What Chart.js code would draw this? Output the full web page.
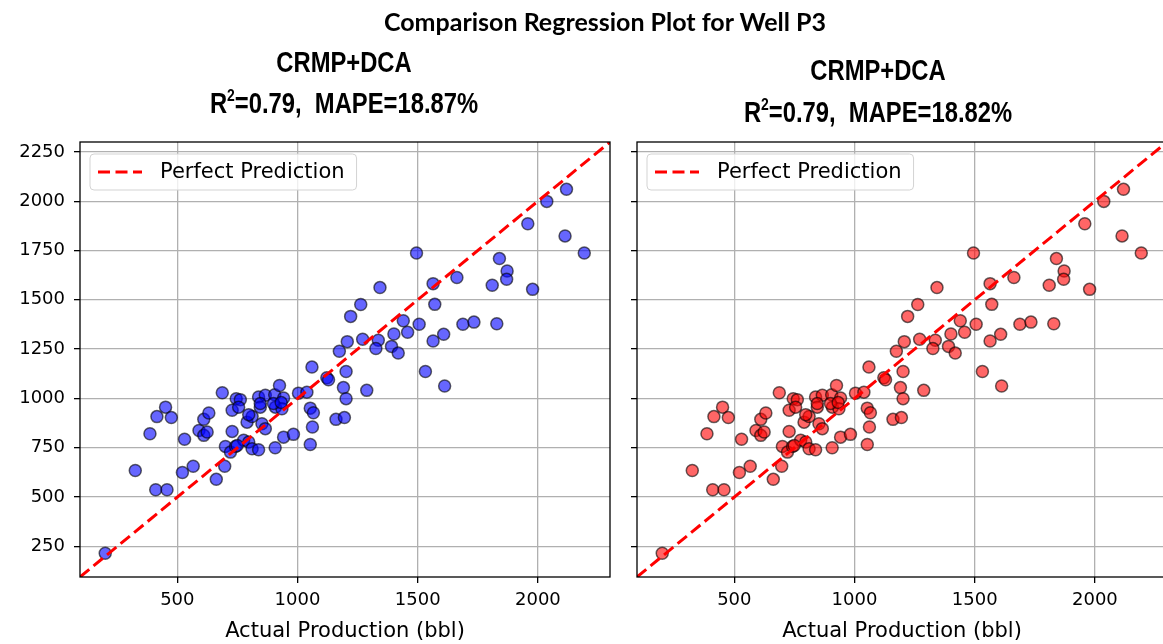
<!DOCTYPE html>
<html>
<head>
<meta charset="utf-8">
<script src="https://cdn.jsdelivr.net/npm/chart.js@4"></script>
<style>
  html, body { margin: 0; padding: 0; background: #fff; overflow: hidden; }
  #wrap { position: relative; width: 1163px; height: 644px; overflow: hidden; }
  canvas { position: absolute; top: 0; }
  .main-title { position: absolute; left: 305px; width: 600px; top: 7px; text-align: center;
    font-family: Lato, sans-serif; font-weight: 700; font-size: 25px; line-height: 28px; color: #000; }
  .sub { position: absolute; width: 400px; text-align: center; color: #000;
    font-family: "Liberation Sans", Arial, sans-serif; font-weight: 700;
    font-size: 29px; line-height: 32px; transform: scaleX(0.82); transform-origin: 50% 50%; }
  .sub sup { font-size: 17px; line-height: 0; vertical-align: 12px; }
</style>
</head>
<body>
<div id="wrap">
  <canvas id="leftChart" width="620" height="644" style="left:0px"></canvas>
  <canvas id="rightChart" width="620" height="644" style="left:557px"></canvas>
  <div class="main-title">Comparison Regression Plot for Well P3</div>
  <div class="sub" style="left:144px; top:46px">CRMP+DCA</div>
  <div class="sub" style="left:144px; top:87px">R<sup>2</sup>=0.79,&nbsp; MAPE=18.87%</div>
  <div class="sub" style="left:678px; top:54px">CRMP+DCA</div>
  <div class="sub" style="left:678px; top:96px">R<sup>2</sup>=0.79,&nbsp; MAPE=18.82%</div>
</div>
<script>
// actual vs predicted production (bbl) - both panels show the same points
const actualProd = [200, 325, 410, 457, 386, 415, 451, 475, 530, 521, 566, 590, 610, 610, 624, 631, 662, 697, 687, 700,
  721, 742, 728, 728, 745, 762, 755, 776, 797, 790, 811, 811, 838, 838, 845, 852, 866, 866, 845, 905,
  925, 942, 908, 935, 907, 942, 983, 1004, 1039, 1053, 1066, 1062, 1053, 1060, 1122, 1129, 1160, 1195, 1191, 1202,
  1202, 1288, 1174, 1207, 1221, 1263, 1271, 1336, 1326, 1343, 1391, 1419, 1401, 1440, 1458, 1506, 1495, 1532, 1564, 1571,
  1564, 1608, 1612, 1663, 1688, 1734, 1829, 1810, 1840, 1872, 1870, 1958, 1978, 2037, 2119, 2113, 2193, 900, 932, 797, 749];
const predictedProd = [215, 635, 537, 537, 821, 908, 956, 903, 793, 625, 656, 838, 894, 813, 830, 926, 590, 656, 1029, 757,
  728, 757, 940, 833, 999, 994, 956, 788, 779, 880, 909, 745, 740, 1007, 956, 872, 847, 1016, 974, 1019,
  1066, 1002, 956, 948, 750, 804, 818, 1027, 1032, 951, 928, 855, 767, 1159, 1105, 1095, 894, 903, 1055, 1137,
  999, 1041, 1239, 1288, 1416, 1476, 1300, 1295, 1253, 1562, 1264, 1230, 1327, 1394, 1336, 1376, 1737, 1137, 1582, 1477,
  1291, 1325, 1063, 1613, 1376, 1387, 1379, 1574, 1709, 1646, 1604, 1886, 1553, 1999, 2060, 1824, 1737, 974, 980, 918, 762];

const xTicks = [500, 1000, 1500, 2000];
const yTicks = [250, 500, 750, 1000, 1250, 1500, 1750, 2000, 2250];
const axisMin = 95;
const axisMax = 2300;

const FONT = 'DejaVu Sans';
Chart.defaults.font.family = FONT;
Chart.defaults.color = '#000';

// matplotlib style box around the plot area
const framePlugin = {
  id: 'frame',
  afterDraw(chart) {
    const a = chart.chartArea, ctx = chart.ctx;
    ctx.save();
    ctx.strokeStyle = '#000';
    ctx.lineWidth = 1.3;
    ctx.strokeRect(a.left, a.top, a.right - a.left, a.bottom - a.top);
    ctx.restore();
  }
};

// legend drawn inside the axes, top left
const legendInside = {
  id: 'legendInside',
  afterDatasetsDraw(chart) {
    const a = chart.chartArea, ctx = chart.ctx;
    const ds = chart.data.datasets[1];
    ctx.save();
    ctx.font = '21px "' + FONT + '"';
    const tw = ctx.measureText(ds.label).width;
    const bx = a.left + 10, by = a.top + 12, bw = tw + 82, bh = 36;
    ctx.beginPath();
    ctx.roundRect(bx, by, bw, bh, 4);
    ctx.fillStyle = 'rgba(255,255,255,0.8)';
    ctx.fill();
    ctx.strokeStyle = '#d3d3d3';
    ctx.lineWidth = 1;
    ctx.stroke();
    ctx.setLineDash(ds.borderDash);
    ctx.strokeStyle = ds.borderColor;
    ctx.lineWidth = ds.borderWidth;
    ctx.beginPath();
    ctx.moveTo(bx + 8, by + bh / 2);
    ctx.lineTo(bx + 52, by + bh / 2);
    ctx.stroke();
    ctx.setLineDash([]);
    ctx.fillStyle = '#000';
    ctx.textBaseline = 'middle';
    ctx.fillText(ds.label, bx + 70, by + bh / 2 + 1);
    ctx.restore();
  }
};

const plain = (v) => String(v);

function makeChart(id, fill, showYLabels) {
  const points = actualProd.map((v, i) => ({ x: v, y: predictedProd[i] }));
  return new Chart(document.getElementById(id), {
    type: 'scatter',
    data: {
      datasets: [{
        label: 'Predictions',
        data: points,
        backgroundColor: fill,
        borderColor: 'rgba(0,0,0,0.6)',
        borderWidth: 1.5,
        pointRadius: 6,
        order: 2
      }, {
        type: 'line',
        label: 'Perfect Prediction',
        data: [{ x: axisMin, y: axisMin }, { x: axisMax, y: axisMax }],
        borderColor: '#ff0000',
        borderWidth: 3,
        borderDash: [12, 5.5],
        pointRadius: 0,
        fill: false,
        order: 1
      }]
    },
    options: {
      responsive: false,
      animation: false,
      layout: { padding: { top: 142, right: 10, left: 0, bottom: 0 } },
      plugins: { legend: { display: false }, tooltip: { enabled: false } },
      scales: {
        x: {
          type: 'linear',
          min: axisMin,
          max: axisMax,
          afterBuildTicks: (s) => { s.ticks = xTicks.map(v => ({ value: v })); },
          afterFit: (s) => { s.height = 67; },
          grid: { color: '#b0b0b0', lineWidth: 1.3, tickLength: 6, tickColor: '#000', tickWidth: 1.3 },
          border: { display: false },
          ticks: { font: { size: 18, family: FONT }, padding: 7, maxRotation: 0, callback: plain },
          title: { display: true, text: 'Actual Production (bbl)', font: { size: 21, family: FONT }, padding: { top: 0, bottom: 0 } }
        },
        y: {
          type: 'linear',
          min: axisMin,
          max: axisMax,
          afterBuildTicks: (s) => { s.ticks = yTicks.map(v => ({ value: v })); },
          afterFit: (s) => { s.width = 80; },
          grid: { color: '#b0b0b0', lineWidth: 1.3, tickLength: 6, tickColor: '#000', tickWidth: 1.3 },
          border: { display: false },
          ticks: { display: showYLabels, font: { size: 18, family: FONT }, padding: 9, callback: plain }
        }
      }
    },
    plugins: [legendInside, framePlugin]
  });
}

document.fonts.load('17px "' + FONT + '"').then(() => {
  makeChart('leftChart', 'rgba(0,0,255,0.6)', true);
  makeChart('rightChart', 'rgba(255,0,0,0.6)', false);
});
</script>
</body>
</html>
